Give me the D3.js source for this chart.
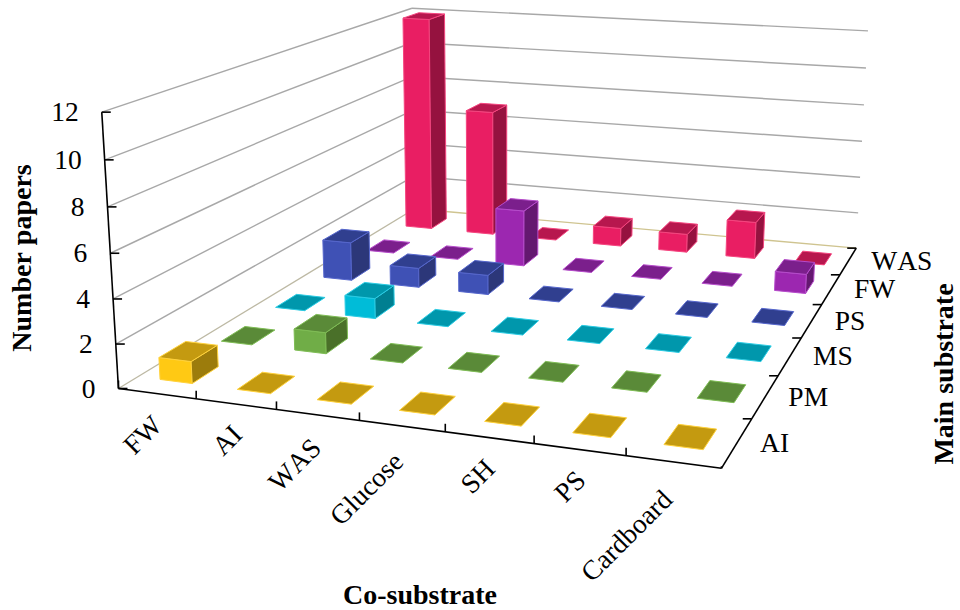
<!DOCTYPE html>
<html>
<head>
<meta charset="utf-8">
<script src="https://cdn.jsdelivr.net/npm/d3@7"></script>
<style>
  body { margin: 0; background: #fff; }
  text { font-family: "Liberation Serif", serif; fill: #000; font-kerning: none; }
  .tick-label { font-size: 27.5px; }
  .title { font-size: 28px; font-weight: bold; }
</style>
</head>
<body>
<svg id="chart" width="960" height="610"></svg>
<script>
const coSubstrates = ["FW", "AI", "WAS", "Glucose", "SH", "PS", "Cardboard"];
const mainSubstrates = ["AI", "PM", "MS", "PS", "FW", "WAS"];
const valueTicks = [0, 2, 4, 6, 8, 10, 12];

const rowAI = [1, 0, 0, 0, 0, 0, 0];
const rowPM = [0, 1, 0, 0, 0, 0, 0];
const rowMS = [0, 1, 0, 0, 0, 0, 0];
const rowPS = [2, 1, 1, 0, 0, 0, 0];
const rowFW = [0, 0, 3, 0, 0, 0, 1];
const rowWAS = [12, 7, 0, 1, 1, 2, 0];
const rows = [rowAI, rowPM, rowMS, rowPS, rowFW, rowWAS];

// front, top, side, edge for each main substrate
const palette = [
  ["#ffc914", "#c49a10", "#9c7c0c", "#ffd23c"],
  ["#70ad47", "#5a8a38", "#4a7029", "#7fbd55"],
  ["#00bcd8", "#0097ac", "#007f91", "#2accE4"],
  ["#3f51b5", "#303f8f", "#2c3779", "#5566cc"],
  ["#9c27b0", "#7b1f8c", "#641870", "#b64bcb"],
  ["#e91e63", "#b7174e", "#95123f", "#f5457f"]
];

// where the corners of the box land on the page: [x, y, z, px, py]
const anchors = [
  [0, 0, 0, 118, 388],
  [1, 0, 0, 721.7, 468.3],
  [1, 1, 0, 856, 248.3],
  [0, 1, 0, 415, 209],
  [0, 0, 1, 102, 112.7],
  [0, 1, 1, 411.7, 8],
  [1, 1, 1, 868, 30.7]
];

// least squares fit of the camera matrix through the anchors
function fitCamera(pts) {
  const A = [], b = [];
  pts.forEach(([x, y, z, u, v]) => {
    A.push([x, y, z, 1, 0, 0, 0, 0, -u * x, -u * y, -u * z]); b.push(u);
    A.push([0, 0, 0, 0, x, y, z, 1, -v * x, -v * y, -v * z]); b.push(v);
  });
  const n = 11;
  const M = d3.range(n).map(i => d3.range(n + 1).map(j =>
    d3.sum(A, (row, k) => row[i] * (j < n ? row[j] : b[k]))));
  for (let i = 0; i < n; i++) {
    let p = i;
    for (let r = i + 1; r < n; r++) if (Math.abs(M[r][i]) > Math.abs(M[p][i])) p = r;
    [M[i], M[p]] = [M[p], M[i]];
    for (let r = 0; r < n; r++) {
      if (r === i) continue;
      const f = M[r][i] / M[i][i];
      for (let c = i; c <= n; c++) M[r][c] -= f * M[i][c];
    }
  }
  return M.map((row, i) => row[n] / row[i]);
}

const cam = fitCamera(anchors);

function project(x, y, z) {
  const w = cam[8] * x + cam[9] * y + cam[10] * z + 1;
  return [
    (cam[0] * x + cam[1] * y + cam[2] * z + cam[3]) / w,
    (cam[4] * x + cam[5] * y + cam[6] * z + cam[7]) / w
  ];
}

const xBand = d3.scaleBand().domain(coSubstrates).range([0, 1]).paddingInner(0.58).paddingOuter(0.29);
const yBand = d3.scaleBand().domain(mainSubstrates).range([0, 1]).paddingInner(0.58).paddingOuter(0.29);
const xCell = d3.scaleBand().domain(coSubstrates).range([0, 1]);
const yCell = d3.scaleBand().domain(mainSubstrates).range([0, 1]);
const zScale = d3.scaleLinear().domain([0, 12]).range([0, 1]);

const svg = d3.select("#chart");
const polygon = d3.line().curve(d3.curveLinearClosed);

function seg(g, a, b, color, width) {
  const p = project(...a), q = project(...b);
  g.append("line")
    .attr("x1", p[0]).attr("y1", p[1]).attr("x2", q[0]).attr("y2", q[1])
    .attr("stroke", color).attr("stroke-width", width);
}

// walls
const walls = svg.append("g");
valueTicks.forEach(t => {
  const z = zScale(t);
  seg(walls, [0, 0, z], [0, 1, z], t === 0 ? "#bdb9a4" : "#a8a8a8", 1.4);
  seg(walls, [0, 1, z], [1, 1, z], t === 0 ? "#cfc490" : "#a8a8a8", 1.4);
});

// bars, back row first
const bars = svg.append("g");
d3.range(mainSubstrates.length - 1, -1, -1).forEach(r => {
  const [front, top, side, edge] = palette[r];
  rows[r].forEach((value, c) => {
    const x0 = xBand(coSubstrates[c]), x1 = x0 + xBand.bandwidth();
    const y0 = yBand(mainSubstrates[r]), y1 = y0 + yBand.bandwidth();
    const z = zScale(value);
    const g = bars.append("g").attr("stroke-linejoin", "round");
    const face = (corners, fill) => g.append("path")
      .attr("d", polygon(corners.map(p => project(...p))))
      .attr("fill", fill).attr("stroke", edge).attr("stroke-width", 1);
    if (value > 0) {
      face([[x0, y0, 0], [x1, y0, 0], [x1, y0, z], [x0, y0, z]], front);
      face([[x1, y0, 0], [x1, y1, 0], [x1, y1, z], [x1, y0, z]], side);
    }
    face([[x0, y0, z], [x1, y0, z], [x1, y1, z], [x0, y1, z]], top);
  });
});

// axes
const axes = svg.append("g");
seg(axes, [0, 0, 0], [0, 0, 1], "#000", 1.6);
seg(axes, [0, 0, 0], [1, 0, 0], "#000", 1.6);
seg(axes, [1, 0, 0], [1, 1, 0], "#000", 1.6);

function tick(p, dx, dy) {
  axes.append("line")
    .attr("x1", p[0]).attr("y1", p[1]).attr("x2", p[0] + dx).attr("y2", p[1] + dy)
    .attr("stroke", "#000").attr("stroke-width", 1.6);
}

valueTicks.forEach(t => {
  const p = project(0, 0, zScale(t));
  tick(p, 9, 0);
  svg.append("text").attr("class", "tick-label")
    .attr("x", p[0] - 23).attr("y", p[1]).attr("dy", "0.33em")
    .attr("text-anchor", "end").text(t);
});

coSubstrates.forEach(name => {
  tick(project(xCell(name), 0, 0), 0, -8);
  const p = project(xCell(name) + xCell.bandwidth() / 2, 0, 0);
  const label = svg.append("text").attr("class", "tick-label")
    .attr("text-anchor", "end")
    .text(name);
  // long labels sit a little further down the page
  const extra = label.node().getComputedTextLength() * 0.08;
  label.attr("transform", `translate(${p[0] + 10 - extra},${p[1] + 30 + extra}) rotate(-45)`);
});
tick(project(1, 0, 0), 0, -2);

mainSubstrates.forEach(name => {
  tick(project(1, yCell(name) + yCell.bandwidth(), 0), -9, 0);
  const p = project(1, yCell(name) + yCell.bandwidth() / 2, 0);
  svg.append("text").attr("class", "tick-label")
    .attr("x", p[0] + 23).attr("y", p[1]).attr("dy", "0.33em")
    .text(name);
});

// axis titles
svg.append("text").attr("class", "title")
  .attr("text-anchor", "middle")
  .attr("transform", "translate(31,258) rotate(-90)")
  .text("Number papers");
svg.append("text").attr("class", "title")
  .attr("x", 420).attr("y", 604).attr("text-anchor", "middle")
  .text("Co-substrate");
svg.append("text").attr("class", "title")
  .attr("text-anchor", "middle")
  .attr("transform", "translate(953,374) rotate(-90)")
  .text("Main substrate");
</script>
</body>
</html>
